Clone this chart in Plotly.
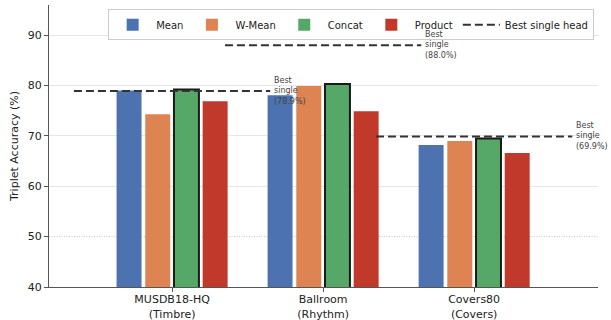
import plotly.graph_objects as go

# Datasets (x categories) and per-method triplet accuracy (%)
datasets = ["MUSDB18-HQ<br>(Timbre)", "Ballroom<br>(Rhythm)", "Covers80<br>(Covers)"]
methods = ["Mean", "W-Mean", "Concat", "Product"]
mean_acc = [79.0, 78.1, 68.2]
wmean_acc = [74.3, 79.9, 69.0]
concat_acc = [79.2, 80.3, 69.5]
product_acc = [76.9, 74.9, 66.6]
best_single = [78.9, 88.0, 69.9]
chance_level = 50

colors = {"Mean": "#4c72b0", "W-Mean": "#dd8452", "Concat": "#55a868", "Product": "#c0392b"}
series = {"Mean": mean_acc, "W-Mean": wmean_acc, "Concat": concat_acc, "Product": product_acc}

FONT = "DejaVu Sans"
xpos = list(range(len(datasets)))
half_span = 0.65

fig = go.Figure()
for m in methods:
    outlined = m == "Concat"
    fig.add_trace(go.Bar(
        name=m, x=xpos, y=series[m], legendgroup=m, offsetgroup=m,
        showlegend=not outlined,
        marker=dict(color=colors[m],
                    line=dict(color="#1a1a1a", width=2 if outlined else 0)),
    ))
    if outlined:
        # plain swatch for the legend entry (no outline)
        fig.add_trace(go.Bar(name=m, x=[None], y=[None], legendgroup=m, offsetgroup=m,
                             marker=dict(color=colors[m], line=dict(width=0))))

# Best single-head reference per dataset
for i, b in enumerate(best_single):
    fig.add_trace(go.Scatter(
        x=[i - half_span, i + half_span], y=[b, b], mode="lines",
        line=dict(color="#333333", width=2, dash="8px,4px"),
        name="Best single head", legendgroup="best", showlegend=(i == 0),
        hoverinfo="skip",
    ))
    fig.add_annotation(
        x=i + half_span + 0.01, y=b, xref="x", yref="y",
        text=f"Best<br>single<br>({b:.1f}%)", showarrow=False,
        xanchor="left", yanchor="middle", align="left",
        font=dict(family=FONT, size=8, color="#444444"),
    )

# Chance-level dotted line
fig.add_shape(type="line", xref="paper", x0=0, x1=1, yref="y",
              y0=chance_level, y1=chance_level,
              line=dict(color="#aaaaaa", width=0.7, dash="1px,1.5px"), layer="below")

fig.update_layout(
    width=611, height=320,
    margin=dict(l=49, r=13, t=5, b=33),
    paper_bgcolor="white", plot_bgcolor="white",
    barmode="group", bargap=0.24, bargroupgap=0.13,
    font=dict(family=FONT, size=11, color="#222222"),
    legend=dict(orientation="h", x=0.993, xanchor="right", y=0.985, yanchor="top",
                bordercolor="#cccccc", borderwidth=1, bgcolor="rgba(255,255,255,0.9)",
                font=dict(family=FONT, size=10, color="#222222"),
                itemwidth=37, traceorder="normal"),
    showlegend=True,
)
fig.update_xaxes(
    range=[-0.815, 2.82], tickvals=xpos, ticktext=datasets, automargin=False,
    showline=True, linecolor="#555555", linewidth=1.2,
    ticks="outside", ticklen=4, tickcolor="#555555", showgrid=False, zeroline=False,
    tickfont=dict(family=FONT, size=11), ticklabelstandoff=-2,
)
fig.update_yaxes(
    range=[40, 96], tickvals=[40, 50, 60, 70, 80, 90], automargin=False,
    showline=True, linecolor="#555555", linewidth=1.2,
    ticks="outside", ticklen=4, tickcolor="#555555", showgrid=False, zeroline=False,
    title=dict(text="Triplet Accuracy (%)", font=dict(family=FONT, size=11), standoff=6),
    tickfont=dict(family=FONT, size=11),
    minor=dict(tickvals=[60, 70, 80, 90], showgrid=True, gridcolor="#e6e6e6",
               gridwidth=1.2, ticklen=0),
)

fig.write_html("out.html")
